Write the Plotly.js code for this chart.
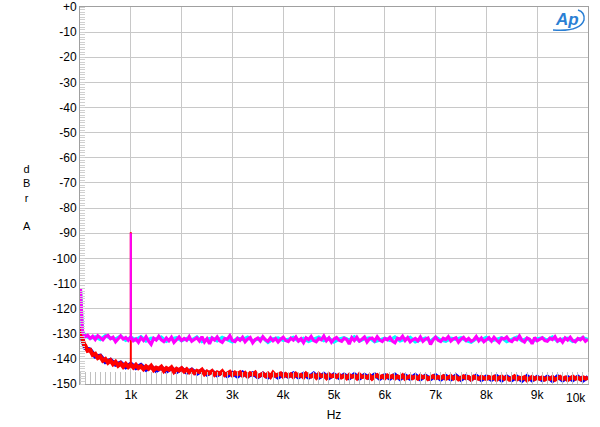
<!DOCTYPE html>
<html>
<head>
<meta charset="utf-8">
<script src="https://cdn.plot.ly/plotly-3.0.1.min.js"></script>
<style>html,body{margin:0;padding:0;background:#fff;}#chart{width:600px;height:427px;}</style>
</head>
<body>
<div id="chart"></div>
<script>
// ---------- DATA ----------
// low-frequency start points (Hz) shared by all traces
const lowFreq = [10, 20, 30, 45, 60, 80];
// fine grid: 100 Hz .. 10 kHz, 50 Hz bins ; coarse grid: 100 Hz .. 10 kHz, 100 Hz bins
const fineStart = 100, fineStep = 50, fineCount = 199;
const coarseStart = 100, coarseStep = 100, coarseCount = 100;

const magentaLow = [-112, -120, -125.5, -128.5, -129.8, -130.6];
const magentaVals = [
-131.2,-130.6,-131.9,-131.0,-132.3,-130.8,-131.6,-132.4,-131.1,-130.7,-132.0,-131.4,-133.2,-131.8,-130.9,-132.1,-131.5,-132.6,-131.3,-132.8,
-132.1,-133.4,-131.6,-132.7,-131.2,-132.9,-134.2,-131.8,-132.5,-131.0,-132.4,-133.1,-131.7,-132.8,-131.4,-133.5,-132.2,-131.3,-132.7,-131.9,
-132.6,-131.1,-133.0,-132.3,-131.6,-132.9,-131.2,-133.3,-132.0,-134.0,-131.7,-132.5,-131.3,-132.8,-133.4,-131.9,-132.2,-130.8,-132.7,-133.1,
-131.8,-132.6,-131.4,-133.2,-132.1,-131.5,-133.6,-132.3,-131.7,-132.9,-131.2,-132.4,-133.0,-131.6,-132.8,-131.9,-133.3,-132.2,-131.4,-132.7,
-133.1,-131.8,-132.5,-131.3,-132.9,-132.0,-133.5,-131.6,-132.3,-131.1,-132.7,-133.2,-131.9,-132.4,-130.9,-132.8,-131.7,-133.4,-132.1,-131.5,
-132.6,-133.0,-131.8,-132.3,-134.1,-131.6,-132.7,-131.4,-132.9,-132.2,-131.3,-133.3,-132.0,-131.7,-132.8,-131.2,-132.5,-133.1,-131.9,-132.4,
-131.5,-132.9,-133.6,-131.8,-132.2,-131.0,-132.7,-131.6,-133.2,-132.4,-131.9,-132.8,-131.3,-133.0,-132.1,-131.7,-134.3,-132.5,-131.4,-132.6,
-133.1,-131.8,-132.3,-131.2,-132.9,-132.0,-131.6,-133.4,-132.2,-131.5,-132.7,-131.9,-133.0,-132.4,-131.1,-132.8,-131.7,-133.2,-132.3,-131.6,
-132.9,-131.4,-132.5,-133.5,-131.8,-132.1,-131.3,-132.7,-133.1,-131.9,-132.4,-130.9,-132.6,-133.3,-131.7,-132.2,-134.0,-131.5,-132.8,-132.0,
-131.6,-132.7,-133.0,-131.8,-132.3,-131.2,-132.9,-132.1,-133.4,-131.7,-132.5,-131.4,-132.8,-133.2,-131.9,-132.4,-131.5,-133.0,-132.2
];

const cyanLow = [-113, -121, -126, -128.8, -129.6, -130.3];
const cyanVals = [
-130.9,-131.8,-131.2,-132.3,-130.8,-131.7,-132.1,-131.0,-132.6,-131.5,-132.4,-131.2,-132.9,-131.8,-132.2,-131.4,-133.0,-132.0,-131.6,-132.7,
-131.9,-132.5,-131.3,-133.1,-132.2,-131.7,-132.8,-131.5,-132.4,-133.2,-131.8,-132.3,-131.4,-132.9,-132.1,-131.6,-133.4,-132.0,-131.7,-132.6,
-132.3,-131.5,-132.8,-131.9,-133.0,-132.2,-131.4,-132.7,-131.8,-133.3,-132.1,-131.6,-132.5,-131.2,-132.9,-132.0,-131.7,-133.1,-132.4,-131.8,
-132.6,-131.3,-132.8,-132.0,-131.5,-133.2,-132.3,-131.7,-132.9,-131.4,-132.5,-133.0,-131.8,-132.2,-131.6,-132.7,-133.3,-131.9,-132.4,-131.5,
-132.8,-132.1,-131.6,-133.1,-132.3,-131.4,-132.7,-131.9,-133.2,-132.0,-131.7,-132.6,-131.3,-132.9,-132.2,-131.8,-133.0,-132.4,-131.6,-132.3
];

const redLow = [-127, -128.5, -130.5, -132, -133, -134.2];
const redVals = [
-134.6,-136.8,-136.5,-138.4,-138.0,-139.6,-139.0,-140.7,-140.1,-141.5,-140.6,-142.1,-141.2,-142.7,-141.8,-143.1,-142.0,-143.2,-142.3,-143.4,
-142.4,-143.6,-142.9,-144.1,-143.0,-143.9,-142.8,-144.4,-143.5,-144.0,-143.2,-144.8,-143.7,-144.3,-143.4,-145.1,-144.0,-144.6,-143.8,-145.0,
-144.2,-145.3,-144.5,-145.6,-144.8,-145.2,-144.4,-146.0,-145.1,-145.7,-144.9,-146.3,-145.4,-145.9,-145.0,-146.4,-145.6,-145.2,-146.5,-145.5,
-146.1,-145.4,-146.6,-145.7,-146.9,-145.8,-146.3,-145.5,-147.0,-146.2,-145.9,-146.8,-146.0,-147.1,-145.6,-146.7,-146.3,-145.8,-147.0,-146.1,
-146.9,-146.2,-147.2,-146.0,-146.8,-146.4,-147.3,-145.9,-146.7,-147.0,-146.3,-147.4,-146.1,-146.9,-146.5,-147.5,-146.2,-147.0,-146.6,-147.2,
-146.4,-147.3,-146.7,-147.6,-146.5,-147.1,-146.8,-147.7,-146.3,-147.2,-146.9,-147.5,-146.6,-147.8,-147.0,-146.5,-147.4,-146.9,-147.6,-146.7,
-147.3,-146.8,-147.7,-147.0,-147.5,-146.6,-147.9,-147.2,-146.9,-147.6,-147.1,-147.8,-146.8,-147.4,-147.0,-148.0,-147.3,-146.9,-147.7,-147.2,
-147.6,-147.0,-147.9,-147.3,-146.9,-147.8,-147.2,-148.1,-147.4,-147.0,-147.7,-147.3,-148.2,-147.1,-147.6,-147.9,-147.2,-147.5,-148.0,-147.3,
-147.8,-147.2,-148.3,-147.5,-147.1,-147.9,-147.4,-148.2,-147.6,-147.0,-148.1,-147.5,-147.8,-147.3,-148.4,-147.6,-147.2,-148.0,-147.5,-147.9,
-147.4,-148.2,-147.6,-147.9,-147.3,-148.3,-147.7,-147.2,-148.0,-147.5,-148.4,-147.6,-147.1,-147.9,-147.5,-148.1,-147.4,-147.8,-147.6
];

const blueLow = [-128, -129.5, -131, -132.5, -133.5, -134.5];
const blueVals = [
-135.6,-136.4,-139.1,-138.8,-141.2,-140.4,-142.3,-141.5,-143.3,-142.0,-143.6,-142.5,-144.3,-143.0,-144.8,-143.4,-145.0,-143.7,-145.2,-143.9,
-145.4,-144.3,-145.9,-144.6,-146.2,-145.0,-146.5,-145.3,-146.8,-145.6,-147.0,-145.5,-146.9,-145.8,-147.2,-145.9,-147.3,-146.0,-147.4,-146.1,
-147.1,-145.8,-147.3,-146.0,-147.4,-145.9,-147.5,-146.1,-147.6,-146.2,-147.5,-146.3,-147.7,-146.2,-147.8,-146.4,-147.6,-146.3,-147.9,-146.5,
-147.8,-146.4,-148.0,-146.6,-147.9,-146.5,-148.1,-146.7,-148.0,-146.6,-148.2,-146.8,-148.1,-146.7,-148.3,-146.9,-148.2,-146.8,-148.4,-147.0,
-148.3,-146.9,-148.5,-147.0,-148.4,-147.1,-148.6,-146.9,-148.5,-147.2,-148.4,-147.1,-148.7,-147.0,-148.5,-147.3,-148.4,-147.1,-148.6,-147.2
];

// 1 kHz test tone spike
const spikeFreq = 1000;
const magentaSpike = [-132.0, -90.0];
const redSpike = [-142.7, -89.6];

// tick labels
const xTickVals = [1000, 2000, 3000, 4000, 5000, 6000, 7000, 8000, 9000];
const xTickText = ['1k', '2k', '3k', '4k', '5k', '6k', '7k', '8k', '9k'];
const xLastTick = 10000, xLastText = '10k';
const yTickVals = [0, -10, -20, -30, -40, -50, -60, -70, -80, -90, -100, -110, -120, -130, -140, -150];
const yTickText = ['+0', '-10', '-20', '-30', '-40', '-50', '-60', '-70', '-80', '-90', '-100', '-110', '-120', '-130', '-140', '-150'];

// ---------- BUILD ----------
function grid(start, step, n) { const a = []; for (let i = 0; i < n; i++) a.push(start + i * step); return a; }
const fineX = lowFreq.concat(grid(fineStart, fineStep, fineCount));
const coarseX = lowFreq.concat(grid(coarseStart, coarseStep, coarseCount));

function tr(x, y, color, w) {
  return { x: x, y: y, type: 'scatter', mode: 'lines', line: { color: color, width: w, shape: 'linear' }, hoverinfo: 'skip' };
}
const data = [
  tr(coarseX, cyanLow.concat(cyanVals), '#00ffff', 3.4),
  tr(coarseX, blueLow.concat(blueVals), '#0000ff', 4.2),
  tr(fineX, redLow.concat(redVals), '#ff0000', 4.2),
  tr([spikeFreq, spikeFreq], redSpike, '#ff0000', 2),
  tr(fineX, magentaLow.concat(magentaVals), '#ff00ff', 3.2),
  tr([spikeFreq, spikeFreq], magentaSpike, '#ff00ff', 2)
];

const font = { family: 'Arial, "Liberation Sans", sans-serif', size: 12, color: '#000' };
function px2x(p) { return (p - 80) / 508; }
function py2y(p) { return (384 - p) / 377; }

const layout = {
  width: 600, height: 427,
  margin: { l: 80, r: 12, t: 7, b: 43 },
  paper_bgcolor: '#fff', plot_bgcolor: '#fff',
  showlegend: false, hovermode: false,
  font: font,
  xaxis: {
    range: [0, 10000], tickmode: 'array', tickvals: xTickVals, ticktext: xTickText,
    ticks: '', showgrid: true, gridcolor: '#c8c8c8', gridwidth: 1,
    showline: true, mirror: true, linecolor: '#a0a0a0', linewidth: 1, zeroline: false,
    tickfont: font,
    minor: { tickmode: 'linear', tick0: 0, dtick: 100, ticks: 'inside', ticklen: 12, tickcolor: '#c0c0c0', tickwidth: 1, showgrid: false },
    title: { text: 'Hz', font: font, standoff: 9 }
  },
  yaxis: {
    range: [-150, 0], tickmode: 'array', tickvals: yTickVals, ticktext: yTickText,
    ticks: '', showgrid: true, gridcolor: '#c8c8c8', gridwidth: 1,
    showline: true, mirror: true, linecolor: '#a0a0a0', linewidth: 1, zeroline: false,
    tickfont: font,
    minor: { tickmode: 'linear', tick0: 0, dtick: 1, ticks: 'inside', ticklen: 5, tickcolor: '#d0d0d0', tickwidth: 1, showgrid: false }
  },
  annotations: [
    { text: 'd<br>B<br>r<br><br>A', xref: 'paper', yref: 'paper', x: px2x(27), y: py2y(197),
      xanchor: 'center', yanchor: 'middle', showarrow: false, align: 'center', font: { family: font.family, size: 11, color: '#000' } },
    { text: xLastText, xref: 'x', yref: 'paper', x: xLastTick, y: 0, xanchor: 'right', yanchor: 'top', yshift: -5,
      showarrow: false, font: font },
    { text: '<b><i>Ap</i></b>', xref: 'paper', yref: 'paper', x: px2x(567), y: py2y(19), xanchor: 'center', yanchor: 'middle',
      showarrow: false, font: { family: font.family, size: 17, color: '#2a7fd4' } }
  ],
  shapes: [
    { type: 'path', xref: 'paper', yref: 'paper',
      path: 'M ' + px2x(553) + ' ' + py2y(30) + ' Q ' + px2x(580) + ' ' + py2y(32) + ' ' + px2x(584) + ' ' + py2y(20) +
            ' Q ' + px2x(585) + ' ' + py2y(12) + ' ' + px2x(578) + ' ' + py2y(10),
      line: { color: '#2a7fd4', width: 1.5 } }
  ]
};

Plotly.newPlot('chart', data, layout, { staticPlot: true, displayModeBar: false });
</script>
</body>
</html>
